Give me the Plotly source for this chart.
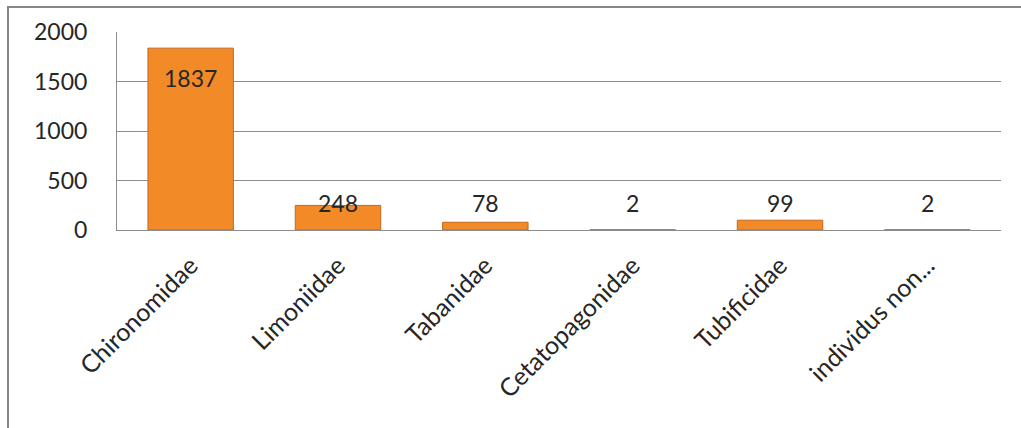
import plotly.graph_objects as go

# Counts of individuals per taxon
families = ["Chironomidae", "Limoniidae", "Tabanidae", "Cetatopagonidae",
            "Tubificidae", "individus non..."]
counts = [1837, 248, 78, 2, 99, 2]

y_ticks = [0, 500, 1000, 1500, 2000]

FONT = "Lato"
TEXT_COLOR = "#262626"
GRID = "#8c8c8c"

fig = go.Figure()

fig.add_trace(go.Bar(
    x=families,
    y=counts,
    width=0.58,
    marker=dict(color="#F28A28", line=dict(color="#C4681E", width=1)),
    hoverinfo="x+y",
))

# value labels: inside the top of tall bars, on a common line for short ones
for fam, v in zip(families, counts):
    if v > 1000:
        fig.add_annotation(x=fam, y=v, yref="y", text=str(v), showarrow=False,
                           yanchor="middle", yshift=-30,
                           font=dict(family=FONT, size=23, color=TEXT_COLOR))
    else:
        fig.add_annotation(x=fam, y=0, yref="y", text=str(v), showarrow=False,
                           yanchor="middle", yshift=27,
                           font=dict(family=FONT, size=23, color=TEXT_COLOR))

# outer chart frame (left and top edges)
fig.add_shape(type="path", xref="paper", yref="paper",
              path="M -0.1233,-1.2 L -0.1233,1.1263 L 1.1,1.1263",
              line=dict(color="#878787", width=2))

fig.update_layout(
    width=1021, height=428,
    margin=dict(l=117, r=20, t=32, b=198),
    paper_bgcolor="white", plot_bgcolor="white",
    showlegend=False,
    bargap=0.42,
    font=dict(family=FONT, size=23, color=TEXT_COLOR),
    xaxis=dict(
        tickangle=-45,
        showline=True, linecolor=GRID, linewidth=1,
        showgrid=False, ticks="",
        ticklabelstandoff=10,
        tickfont=dict(family=FONT, size=25, color=TEXT_COLOR),
    ),
    yaxis=dict(
        range=[0, 2000],
        tickvals=y_ticks,
        showgrid=True, gridcolor=GRID, gridwidth=1,
        showline=True, linecolor=GRID, linewidth=1,
        zeroline=False, ticks="",
        ticklabelstandoff=24,
        tickfont=dict(family=FONT, size=23, color=TEXT_COLOR),
    ),
)

fig.write_html("out.html")
